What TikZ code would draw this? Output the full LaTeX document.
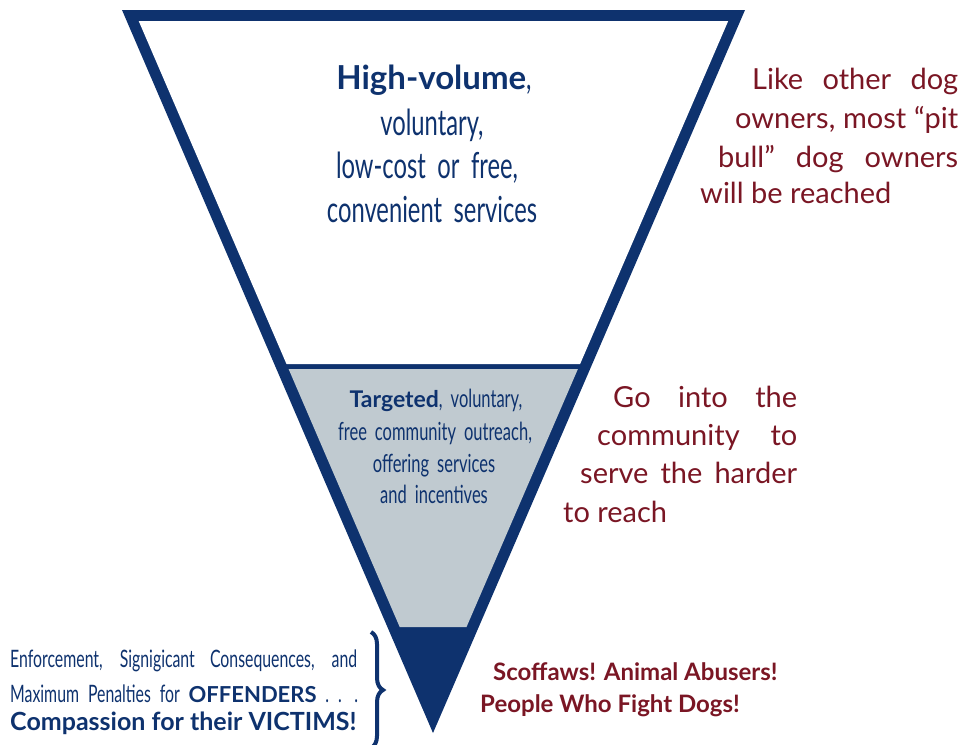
\documentclass[tikz,border=0pt]{standalone}
\usepackage{fontspec}
\setmainfont{Lato}
\newfontfamily\etroite[FakeStretch=0.66,WordSpace=1.9]{Lato}
\usetikzlibrary{decorations.pathreplacing}
\definecolor{marine}{RGB}{14,50,110}
\definecolor{grisbleu}{RGB}{192,202,208}
\definecolor{bordeaux}{RGB}{122,22,36}

\begin{document}
\begin{tikzpicture}[x=1pt,y=-1pt]
\tikzstyle{bleu}=[inner sep=0pt, text=marine, anchor=base];
\tikzstyle{rouge}=[inner sep=0pt, text=bordeaux, anchor=base west];
\tikzstyle{gauche}=[inner sep=0pt, text=marine, anchor=base west];
\useasboundingbox (0,0) rectangle (966,744);

\coordinate (hautg) at (122,10);
\coordinate (hautd) at (745,10);
\coordinate (pointe) at (433,733);
\coordinate (b1) at (138.7,21);
\coordinate (b2) at (728.2,21);
\coordinate (b3) at (580.1,364);
\coordinate (b4) at (286.5,364);
\coordinate (g1) at (288.6,369);
\coordinate (g2) at (577.9,369);
\coordinate (g3) at (466.5,627);
\coordinate (g4) at (399.7,627);
\coordinate (acc1) at (371,632);
\coordinate (acc2) at (371,748);

\fill[marine] (hautg) -- (hautd) -- (pointe) -- cycle;
\fill[white] (b1) -- (b2) -- (b3) -- (b4) -- cycle;
\fill[grisbleu] (g1) -- (g2) -- (g3) -- (g4) -- cycle;

\node[bleu, font=\fontsize{33}{40}\selectfont] (hv) at (434,89) {\bfseries High-volume{\mdseries\etroite\fontsize{36}{40}\selectfont,}};
\node[bleu, font=\fontsize{36}{43}\selectfont\etroite] (vol) at (432,135) {voluntary,};
\node[bleu, font=\fontsize{36}{43}\selectfont\etroite] (cout) at (427,178) {low-cost or free,};
\node[bleu, font=\fontsize{36}{43}\selectfont\etroite] (conv) at (432,222) {convenient services};

\node[bleu, font=\fontsize{25}{32}\selectfont\etroite] (cible) at (436,407) {{\normalfont\bfseries\fontsize{23}{32}\selectfont Targeted}, voluntary,};
\node[bleu, font=\fontsize{25}{32}\selectfont\etroite] (comm) at (435,440) {free community outreach,};
\node[bleu, font=\fontsize{25}{32}\selectfont\etroite] (offre) at (434,472) {offering services};
\node[bleu, font=\fontsize{25}{32}\selectfont\etroite] (incit) at (434,503) {and incentives};

\node[rouge, font=\fontsize{29}{38}\selectfont] (r1) at (752,89) {\makebox[206pt][s]{Like other dog}};
\node[rouge, font=\fontsize{29}{38}\selectfont] (r2) at (735,128) {\makebox[223pt][s]{owners, most “pit}};
\node[rouge, font=\fontsize{29}{38}\selectfont] (r3) at (718,167) {\makebox[240pt][s]{bull” dog owners}};
\node[rouge, font=\fontsize{29}{38}\selectfont] (r4) at (700,203) {will be reached};

\node[rouge, font=\fontsize{29}{38}\selectfont] (m1) at (613,407) {\makebox[184pt][s]{Go into the}};
\node[rouge, font=\fontsize{29}{38}\selectfont] (m2) at (597,445) {\makebox[200pt][s]{community to}};
\node[rouge, font=\fontsize{29}{38}\selectfont] (m3) at (580,483) {\makebox[217pt][s]{serve the harder}};
\node[rouge, font=\fontsize{29}{38}\selectfont] (m4) at (563,522) {to reach};

\node[rouge, font=\fontsize{24}{30}\selectfont\bfseries] (sc) at (493,680) {Scoffaws! Animal Abusers!};
\node[rouge, font=\fontsize{24}{30}\selectfont\bfseries] (pe) at (480,712) {People Who Fight Dogs!};

\node[gauche, font=\fontsize{24}{30}\selectfont\etroite] (enf) at (10,667) {\makebox[347pt][s]{Enforcement, Signigicant Consequences, and}};
\node[gauche, font=\fontsize{24}{30}\selectfont\etroite] (max) at (10,702) {\makebox[348pt][s]{Maximum Penalties for {\normalfont\bfseries\fontsize{22}{30}\selectfont OFFENDERS} . . .}};
\node[gauche, font=\fontsize{25}{30}\selectfont\bfseries] (comp) at (10,730) {Compassion for their VICTIMS!};

\draw[marine, line width=4pt, decorate, decoration={brace, amplitude=12pt}] (acc1) -- (acc2);
\end{tikzpicture}
\end{document}
